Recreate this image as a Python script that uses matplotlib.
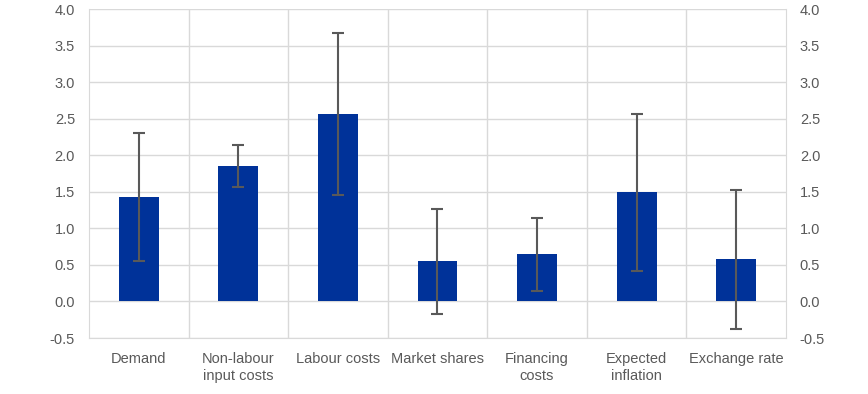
import numpy as np
import matplotlib.pyplot as plt

plt.rcParams['font.family'] = ['Liberation Sans', 'DejaVu Sans']

categories = ["Demand", "Non-labour\ninput costs", "Labour costs", "Market shares",
              "Financing\ncosts", "Expected\ninflation", "Exchange rate"]
values = [1.43, 1.85, 2.57, 0.55, 0.65, 1.50, 0.58]
err_low = [0.56, 1.57, 1.46, -0.17, 0.15, 0.42, -0.37]
err_high = [2.31, 2.14, 3.67, 1.26, 1.14, 2.57, 1.52]

BLUE = "#003299"
GREY = "#595959"
GRID = "#d9d9d9"

fig = plt.figure(figsize=(8.68, 3.94), dpi=100)
ax = fig.add_axes([0.1025, 0.142, 0.803, 0.835])

x = np.arange(len(categories))
vals = np.array(values)
yerr = [vals - np.array(err_low), np.array(err_high) - vals]

ax.bar(x, vals, width=0.4, color=BLUE, zorder=2)
ax.errorbar(x, vals, yerr=yerr, fmt="none", ecolor=GREY, elinewidth=1.5,
            capsize=4, capthick=1.5, zorder=3)

ax.set_xlim(-0.5, len(categories) - 0.5)
ax.set_ylim(-0.5, 4.0)
yt = np.arange(-0.5, 4.01, 0.5)
ax.set_yticks(yt)
ax.set_yticklabels([f"{v:.1f}" for v in yt])
ax.set_xticks(x)
ax.set_xticklabels(categories, linespacing=1.25)

# horizontal grid + vertical separators between categories
ax.grid(axis="y", color=GRID, linewidth=1, zorder=0)
for b in np.arange(0.5, len(categories) - 0.5, 1):
    ax.axvline(b, color=GRID, linewidth=1, zorder=0)

for s in ax.spines.values():
    s.set_color(GRID)
ax.spines["top"].set_visible(False)

ax.tick_params(axis="both", length=0, colors=GREY, labelsize=10.5)
ax.tick_params(axis="x", pad=10)
ax.tick_params(axis="y", pad=10)

ax2 = ax.twinx()
ax2.set_ylim(ax.get_ylim())
ax2.set_yticks(yt)
ax2.set_yticklabels([f"{v:.1f}" for v in yt])
ax2.tick_params(axis="y", length=0, colors=GREY, labelsize=10.5, pad=10)
for s in ax2.spines.values():
    s.set_visible(False)

fig.savefig("out.png", dpi=100)
